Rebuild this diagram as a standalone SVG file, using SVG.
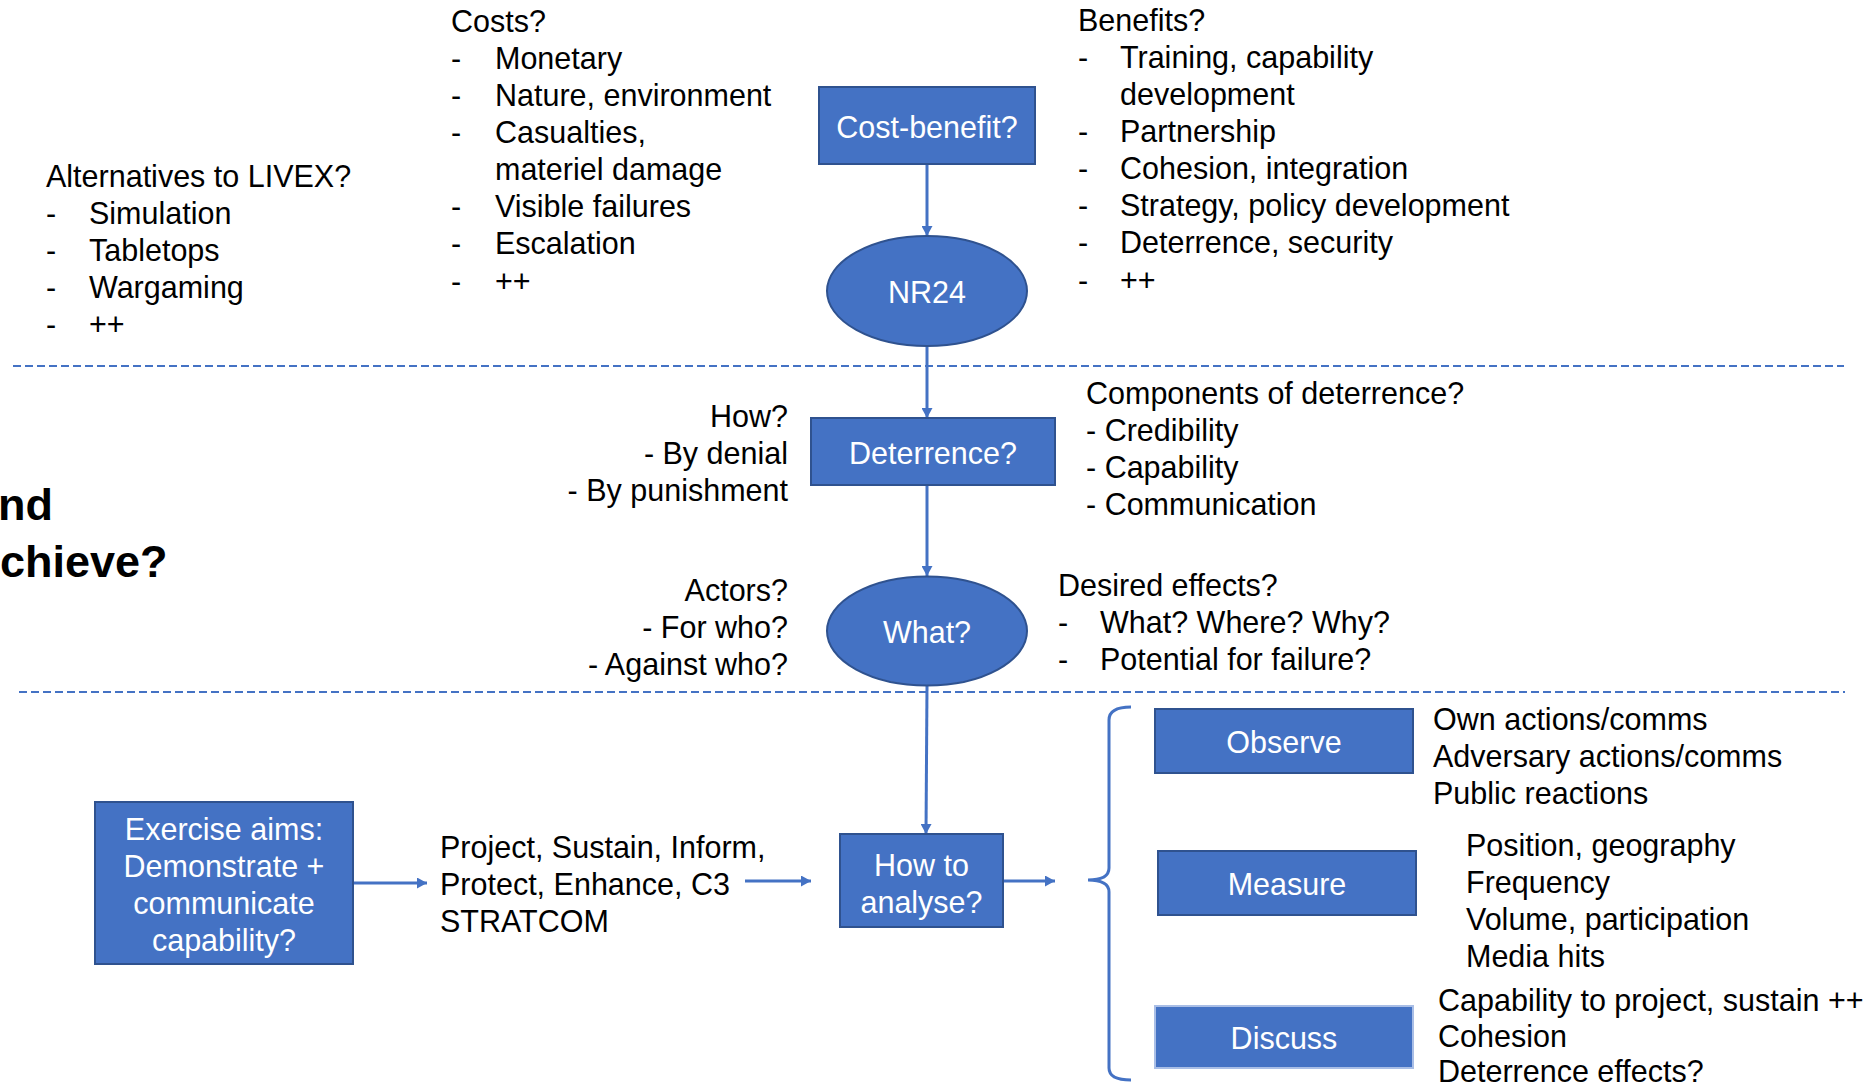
<svg xmlns="http://www.w3.org/2000/svg" width="1869" height="1089" viewBox="0 0 1869 1089">
<defs>
<style>
text{font-family:"Liberation Sans",Arial,sans-serif;font-size:30.5px;fill:#000}
.w{fill:#fff;text-anchor:middle}
.r{text-anchor:end}
.big{font-size:45px;font-weight:bold}
.box{fill:#4472C4;stroke:#2F528F;stroke-width:2}
.boxl{fill:#4472C4;stroke:#A9BEE6;stroke-width:2}
.con{stroke:#4472C4;stroke-width:3;fill:none}
.dash{stroke:#4472C4;stroke-width:2;stroke-dasharray:8 4;fill:none}
</style>
<marker id="ah" markerUnits="userSpaceOnUse" markerWidth="11" markerHeight="11" refX="10" refY="5.5" orient="auto">
<path d="M0,0 L10,5.5 L0,11 z" fill="#4472C4"/>
</marker>
</defs>
<rect width="1869" height="1089" fill="#fff"/>

<g id="separators">
<line class="dash" x1="13" y1="366" x2="1844" y2="366"/>
<line class="dash" x1="19" y1="692" x2="1845" y2="692"/>
</g>

<g id="connectors">
<line class="con" x1="927" y1="165" x2="927" y2="236" marker-end="url(#ah)"/>
<line class="con" x1="927" y1="347" x2="927" y2="418" marker-end="url(#ah)"/>
<line class="con" x1="927" y1="486" x2="927" y2="576" marker-end="url(#ah)"/>
<line class="con" x1="927" y1="686" x2="926" y2="834" marker-end="url(#ah)"/>
<line class="con" x1="354" y1="883" x2="427" y2="883" marker-end="url(#ah)"/>
<line class="con" x1="745" y1="881" x2="811" y2="881" marker-end="url(#ah)"/>
<line class="con" x1="1004" y1="881" x2="1055" y2="881" marker-end="url(#ah)"/>
<path id="brace" class="con" d="M1131,707 Q1109,707 1109,720 L1109,868 Q1109,880 1088,880 Q1109,880 1109,892 L1109,1068 Q1109,1080 1131,1080"/>
</g>

<g id="title">
<text class="big" x="-2" y="520">nd</text>
<text class="big" x="0" y="577">chieve?</text>
</g>

<g id="alternatives">
<text x="46" y="187">Alternatives to LIVEX?</text>
<text x="46" y="224">-</text><text x="89" y="224">Simulation</text>
<text x="46" y="261">-</text><text x="89" y="261">Tabletops</text>
<text x="46" y="298">-</text><text x="89" y="298">Wargaming</text>
<text x="46" y="335">-</text><text x="89" y="335">++</text>
</g>

<g id="costs">
<text x="451" y="32">Costs?</text>
<text x="451" y="69">-</text><text x="495" y="69">Monetary</text>
<text x="451" y="106">-</text><text x="495" y="106">Nature, environment</text>
<text x="451" y="143">-</text><text x="495" y="143">Casualties,</text>
<text x="495" y="180">materiel damage</text>
<text x="451" y="217">-</text><text x="495" y="217">Visible failures</text>
<text x="451" y="254">-</text><text x="495" y="254">Escalation</text>
<text x="451" y="292">-</text><text x="495" y="292">++</text>
</g>

<g id="benefits">
<text x="1078" y="31">Benefits?</text>
<text x="1078" y="68">-</text><text x="1120" y="68">Training, capability</text>
<text x="1120" y="105">development</text>
<text x="1078" y="142">-</text><text x="1120" y="142">Partnership</text>
<text x="1078" y="179">-</text><text x="1120" y="179">Cohesion, integration</text>
<text x="1078" y="216">-</text><text x="1120" y="216">Strategy, policy development</text>
<text x="1078" y="253">-</text><text x="1120" y="253">Deterrence, security</text>
<text x="1078" y="291">-</text><text x="1120" y="291">++</text>
</g>

<g id="cost-benefit">
<rect class="box" x="819" y="87" width="216" height="77"/>
<text class="w" x="927" y="138">Cost-benefit?</text>
</g>

<g id="nr24">
<ellipse class="box" cx="927" cy="291" rx="100" ry="55"/>
<text class="w" x="927" y="303">NR24</text>
</g>

<g id="how">
<text class="r" x="788" y="427">How?</text>
<text class="r" x="788" y="464">- By denial</text>
<text class="r" x="788" y="501">- By punishment</text>
</g>

<g id="deterrence">
<rect class="box" x="811" y="418" width="244" height="67"/>
<text class="w" x="933" y="464">Deterrence?</text>
</g>

<g id="components">
<text x="1086" y="404">Components of deterrence?</text>
<text x="1086" y="441">- Credibility</text>
<text x="1086" y="478">- Capability</text>
<text x="1086" y="515">- Communication</text>
</g>

<g id="actors">
<text class="r" x="788" y="601">Actors?</text>
<text class="r" x="788" y="638">- For who?</text>
<text class="r" x="788" y="675">- Against who?</text>
</g>

<g id="what">
<ellipse class="box" cx="927" cy="631" rx="100" ry="54.5"/>
<text class="w" x="927" y="643">What?</text>
</g>

<g id="desired">
<text x="1058" y="596">Desired effects?</text>
<text x="1058" y="633">-</text><text x="1100" y="633">What? Where? Why?</text>
<text x="1058" y="670">-</text><text x="1100" y="670">Potential for failure?</text>
</g>

<g id="exercise-aims">
<rect class="box" x="95" y="802" width="258" height="162"/>
<text class="w" x="224" y="840">Exercise aims:</text>
<text class="w" x="224" y="877">Demonstrate +</text>
<text class="w" x="224" y="914">communicate</text>
<text class="w" x="224" y="951">capability?</text>
</g>

<g id="pillars">
<text x="440" y="858">Project, Sustain, Inform,</text>
<text x="440" y="895">Protect, Enhance, C3</text>
<text x="440" y="932">STRATCOM</text>
</g>

<g id="how-to-analyse">
<rect class="box" x="840" y="834" width="163" height="93"/>
<text class="w" x="921.5" y="876">How to</text>
<text class="w" x="921.5" y="913">analyse?</text>
</g>

<g id="observe">
<rect class="box" x="1155" y="709" width="258" height="64"/>
<text class="w" x="1284" y="753">Observe</text>
<text x="1433" y="730">Own actions/comms</text>
<text x="1433" y="767">Adversary actions/comms</text>
<text x="1433" y="804">Public reactions</text>
</g>

<g id="measure">
<rect class="box" x="1158" y="851" width="258" height="64"/>
<text class="w" x="1287" y="895">Measure</text>
<text x="1466" y="856">Position, geography</text>
<text x="1466" y="893">Frequency</text>
<text x="1466" y="930">Volume, participation</text>
<text x="1466" y="967">Media hits</text>
</g>

<g id="discuss">
<rect class="boxl" x="1155" y="1006" width="258" height="62"/>
<text class="w" x="1284" y="1049">Discuss</text>
<text x="1438" y="1011">Capability to project, sustain ++</text>
<text x="1438" y="1047">Cohesion</text>
<text x="1438" y="1082">Deterrence effects?</text>
</g>
</svg>
